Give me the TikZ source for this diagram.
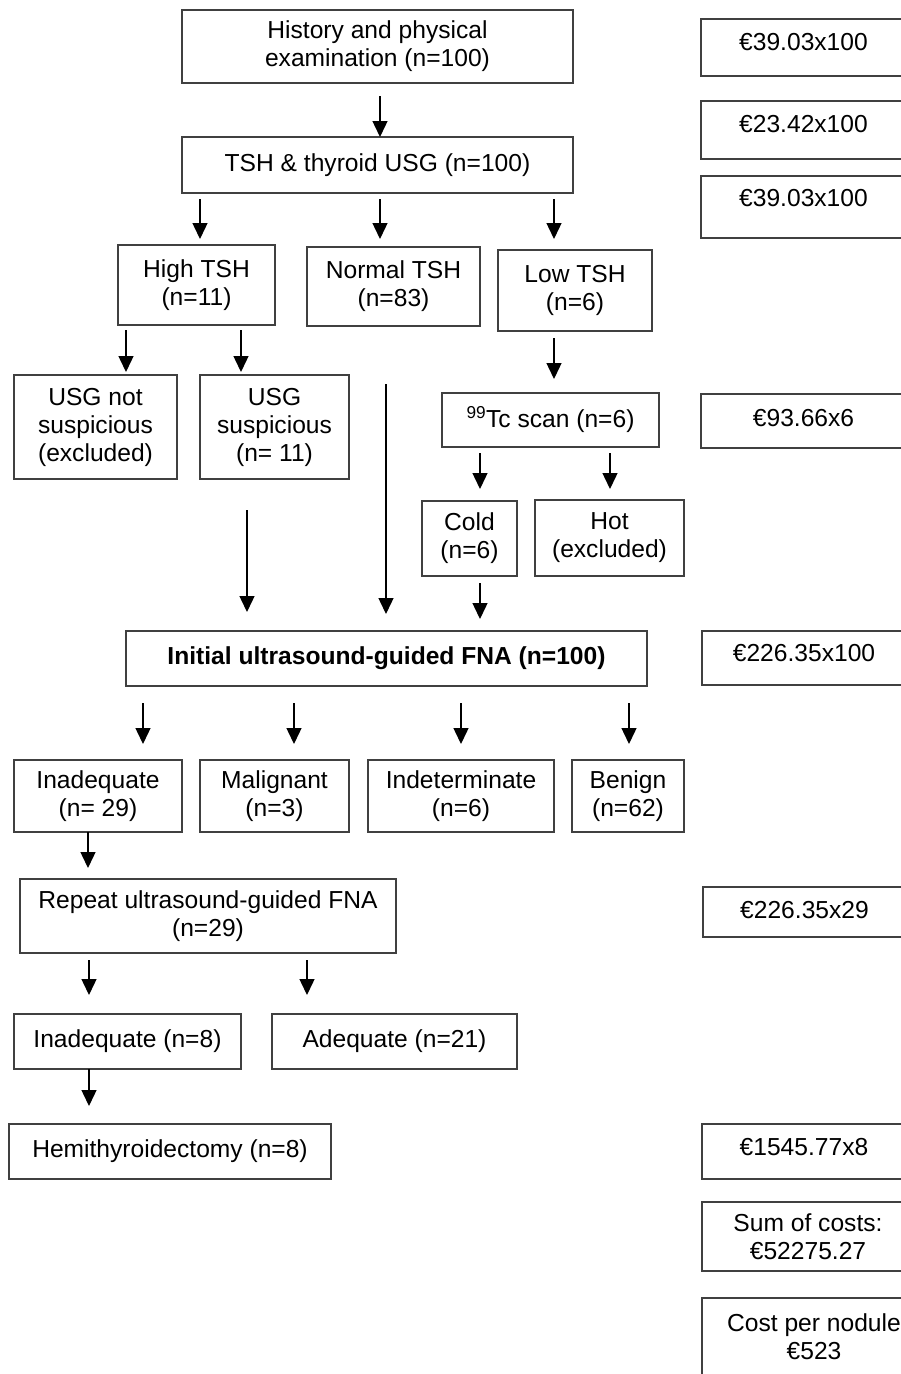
\documentclass[tikz,border=0pt]{standalone}
\usepackage{fontspec}
\setmainfont{Liberation Sans}
\usetikzlibrary{arrows.meta}

\tikzset{
  box/.style={draw=black!75, line width=1.6pt, align=center, inner sep=0pt},
  arr/.style={-{Triangle[length=16pt,width=15pt]}, line width=1.4pt}
}

\begin{document}
\begin{tikzpicture}[x=1pt, y=-1pt, font=\fontsize{24.6}{28}\selectfont]

\useasboundingbox (0,0) rectangle (901,1374);
\clip (0,0) rectangle (901,1374);

% main flow
\node (hist) at (377.5,46.5) [box, minimum width=391pt, minimum height=73pt] {History and physical\\examination (n=100)};
\node (tsh) at (377.5,165) [box, minimum width=391pt, minimum height=56pt] {TSH \& thyroid USG (n=100)};

\node (high) at (196.5,285) [box, minimum width=157pt, minimum height=80pt] {High TSH\\(n=11)};
\node (normal) at (393.5,286.5) [box, minimum width=173pt, minimum height=79pt] {Normal TSH\\(n=83)};
\node (low) at (575,290.5) [box, minimum width=154pt, minimum height=81pt] {Low TSH\\(n=6)};

\node (usgnot) at (95.5,427) [box, minimum width=163pt, minimum height=104pt] {USG not\\suspicious\\(excluded)};
\node (usgsus) at (274.5,427) [box, minimum width=149pt, minimum height=104pt] {USG\\suspicious\\(n= 11)};
\node (tc) at (550.5,420) [box, minimum width=217pt, minimum height=54pt] {\textsuperscript{99}Tc scan (n=6)};

\node (cold) at (469.5,538.5) [box, minimum width=95pt, minimum height=75pt] {Cold\\(n=6)};
\node (hot) at (609.5,538) [box, minimum width=149pt, minimum height=76pt] {Hot\\(excluded)};

\node (fna) at (386.5,658.5) [box, minimum width=521pt, minimum height=55pt] {\textbf{Initial ultrasound-guided FNA (n=100)}};

\node (inad) at (98,796) [box, minimum width=168pt, minimum height=72pt] {Inadequate\\(n= 29)};
\node (malig) at (274.5,796) [box, minimum width=149pt, minimum height=72pt] {Malignant\\(n=3)};
\node (indet) at (461,796) [box, minimum width=186pt, minimum height=72pt] {Indeterminate\\(n=6)};
\node (benign) at (628,796) [box, minimum width=112pt, minimum height=72pt] {Benign\\(n=62)};

\node (repeat) at (208,916) [box, minimum width=376pt, minimum height=74pt] {Repeat ultrasound-guided FNA\\(n=29)};
\node (inadeight) at (127.5,1041.5) [box, minimum width=227pt, minimum height=55pt] {Inadequate (n=8)};
\node (adeq) at (394.5,1041.5) [box, minimum width=245pt, minimum height=55pt] {Adequate (n=21)};
\node (hemi) at (170,1151.5) [box, minimum width=322pt, minimum height=55pt] {Hemithyroidectomy (n=8)};

% cost column
\node (costhist) at (803.5,47.5) [box, minimum width=205pt, minimum height=57pt, text depth=11pt] {€39.03x100};
\node (costtsh) at (803.5,130) [box, minimum width=205pt, minimum height=58pt, text depth=12pt] {€23.42x100};
\node (costusg) at (803.5,207) [box, minimum width=205pt, minimum height=62pt, text depth=18pt] {€39.03x100};
\node (costtc) at (803.5,421) [box, minimum width=205pt, minimum height=54pt, text depth=6pt] {€93.66x6};
\node (costfna) at (804,658) [box, minimum width=204pt, minimum height=54pt, text depth=10pt] {€226.35x100};
\node (costrep) at (804.5,912) [box, minimum width=203pt, minimum height=50pt, text depth=4pt] {€226.35x29};
\node (costhemi) at (804,1151.5) [box, minimum width=204pt, minimum height=55pt, text depth=9pt] {€1545.77x8};
\node (sum) at (808,1236.5) [box, minimum width=212pt, minimum height=69pt] {Sum of costs:\\€52275.27};
\node (nodule) at (814,1337) [box, minimum width=224pt, minimum height=78pt] {Cost per nodule\\€523};

% arrow ends
\coordinate (histout) at (380,96);
\coordinate (tshin) at (380,137);
\coordinate (tshhigh) at (200,199);
\coordinate (highin) at (200,239);
\coordinate (tshnormal) at (380,199);
\coordinate (normalin) at (380,239);
\coordinate (tshlow) at (554,199);
\coordinate (lowin) at (554,239);
\coordinate (highnot) at (126,330);
\coordinate (notin) at (126,372);
\coordinate (highsus) at (241,330);
\coordinate (susin) at (241,372);
\coordinate (lowout) at (554,338);
\coordinate (tcin) at (554,379);
\coordinate (normalout) at (386,384);
\coordinate (normalfna) at (386,614);
\coordinate (tccold) at (480,453);
\coordinate (coldin) at (480,489);
\coordinate (tchot) at (610,453);
\coordinate (hotin) at (610,489);
\coordinate (susout) at (247,510);
\coordinate (susfna) at (247,612);
\coordinate (coldout) at (480,583);
\coordinate (coldfna) at (480,619);
\coordinate (fnainad) at (143,703);
\coordinate (inadin) at (143,744);
\coordinate (fnamalig) at (294,703);
\coordinate (maligin) at (294,744);
\coordinate (fnaindet) at (461,703);
\coordinate (indetin) at (461,744);
\coordinate (fnabenign) at (629,703);
\coordinate (benignin) at (629,744);
\coordinate (inadout) at (88,832);
\coordinate (repeatin) at (88,868);
\coordinate (repinad) at (89,960);
\coordinate (inadeightin) at (89,995);
\coordinate (repadeq) at (307,960);
\coordinate (adeqin) at (307,995);
\coordinate (inadeightout) at (89,1069);
\coordinate (hemiin) at (89,1106);

% connectors
\draw [arr] (histout) -- (tshin);
\draw [arr] (tshhigh) -- (highin);
\draw [arr] (tshnormal) -- (normalin);
\draw [arr] (tshlow) -- (lowin);
\draw [arr] (highnot) -- (notin);
\draw [arr] (highsus) -- (susin);
\draw [arr] (lowout) -- (tcin);
\draw [arr] (normalout) -- (normalfna);
\draw [arr] (tccold) -- (coldin);
\draw [arr] (tchot) -- (hotin);
\draw [arr] (susout) -- (susfna);
\draw [arr] (coldout) -- (coldfna);
\draw [arr] (fnainad) -- (inadin);
\draw [arr] (fnamalig) -- (maligin);
\draw [arr] (fnaindet) -- (indetin);
\draw [arr] (fnabenign) -- (benignin);
\draw [arr] (inadout) -- (repeatin);
\draw [arr] (repinad) -- (inadeightin);
\draw [arr] (repadeq) -- (adeqin);
\draw [arr] (inadeightout) -- (hemiin);

\end{tikzpicture}
\end{document}
